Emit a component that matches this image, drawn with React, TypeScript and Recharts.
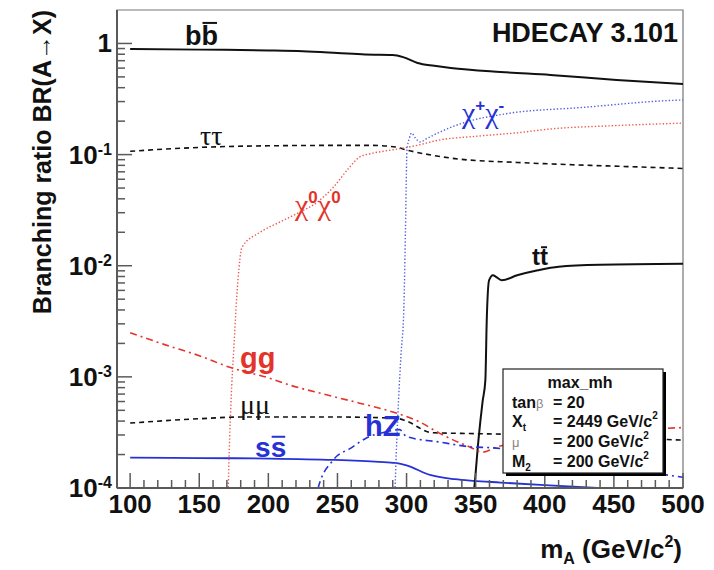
import React from "react";
import { LineChart, Line, XAxis, YAxis, ReferenceDot, ReferenceArea } from "recharts";

type Pt = [number, number];

// BR(A -> X) against m_A in GeV/c^2
const bbbar: Pt[] = [
  [100, 0.89], [150, 0.88], [200, 0.865], [225, 0.85], [250, 0.82], [270, 0.795], [290, 0.788],
  [298, 0.75], [308, 0.668], [320, 0.63], [332, 0.602], [368, 0.554], [404, 0.521], [452, 0.47], [500, 0.432],
];
const tautau: Pt[] = [
  [100, 0.107], [125, 0.112], [150, 0.116], [200, 0.12], [250, 0.121], [275, 0.121], [292, 0.117],
  [300, 0.11], [320, 0.098], [335, 0.092], [380, 0.085], [420, 0.081], [460, 0.078], [500, 0.075],
];
const mumu: Pt[] = [
  [100, 0.000384], [150, 0.00042], [180, 0.000435], [250, 0.000435], [292, 0.000425], [300, 0.0004],
  [318, 0.000315], [340, 0.00031], [370, 0.000305], [420, 0.00029], [460, 0.00028], [500, 0.00027],
];
const ssbar: Pt[] = [
  [100, 0.000188], [150, 0.000186], [200, 0.000184], [247, 0.000179], [280, 0.000172], [292, 0.000168],
  [300, 0.00016], [317, 0.000131], [335, 0.00012], [348, 0.000116], [368, 0.000112], [400, 0.000106],
  [438, 0.0001], [470, 0.000096], [500, 0.000093],
];
const ttbar: Pt[] = [
  [347, 0.00006], [349, 0.0001], [352, 0.00027], [355, 0.0006], [357, 0.00093], [358, 0.0032],
  [359.7, 0.0074], [362.5, 0.0082], [365, 0.0079], [369, 0.0074], [380, 0.0082], [395, 0.0091],
  [410, 0.0098], [440, 0.0102], [500, 0.0104],
];
const gg: Pt[] = [
  [100, 0.0025], [125, 0.00195], [150, 0.00155], [172, 0.00122], [200, 0.00098], [216, 0.00084],
  [240, 0.0007], [266, 0.00058], [293, 0.00047], [310, 0.00039], [324, 0.00031], [346, 0.000233],
  [355, 0.00021], [365, 0.000233], [380, 0.00026], [420, 0.0003], [460, 0.00033], [500, 0.00035],
];
const hZ: Pt[] = [
  [232, 0.00005], [236, 0.0001], [247, 0.000179], [260, 0.00023], [271, 0.000282], [285, 0.00032],
  [295, 0.000335], [300, 0.00029], [324, 0.000259], [346, 0.000235], [362, 0.00023], [400, 0.0002],
  [450, 0.00016], [490, 0.00013], [500, 0.000125],
];
const chi0chi0: Pt[] = [
  [170.5, 0.00005], [171, 0.0001], [173, 0.0006], [175, 0.0018], [178, 0.0074], [181, 0.0147],
  [194, 0.02], [208, 0.0246], [221, 0.0296], [235, 0.037], [247, 0.0508], [258, 0.075], [266, 0.095],
  [274, 0.102], [285, 0.108], [297, 0.114], [310, 0.123], [322, 0.134], [350, 0.146], [382, 0.158],
  [404, 0.17], [450, 0.182], [500, 0.192],
];
const chipchim: Pt[] = [
  [291, 0.00005], [291.7, 0.0001], [294.2, 0.00062], [296, 0.0016], [298, 0.004], [299.2, 0.021],
  [300.3, 0.109], [302, 0.14], [303.7, 0.156], [306.5, 0.14], [309.8, 0.13], [315, 0.14], [322, 0.155],
  [340, 0.191], [372, 0.233], [428, 0.266], [491, 0.307], [500, 0.31],
];

const xMajor = [100, 150, 200, 250, 300, 350, 400, 450, 500];
const xTicks: number[] = [];
for (let v = 100; v <= 500; v += 10) xTicks.push(v);
const yMajor = [1e-4, 1e-3, 1e-2, 1e-1, 1];
const yTicks = yMajor.flatMap((d) => (d === 1 ? [1] : [1, 2, 3, 4, 5, 6, 7, 8, 9].map((k) => k * d)));

const SANS = "'Liberation Sans', Arial, Helvetica, sans-serif";
const SERIF = "'Liberation Serif', 'DejaVu Serif', serif";
const INK = "#111";
const RED = "#e3342b";
const BLUE = "#2632d6";
const AXIS = "#5a5a5a";

const rows = (pts: Pt[]) => pts.map(([m, br]) => ({ m, br }));

const curves = [
  { name: "bb", pts: bbbar, stroke: INK, width: 2 },
  { name: "tautau", pts: tautau, stroke: INK, width: 1.6, dash: "5 4" },
  { name: "mumu", pts: mumu, stroke: INK, width: 1.6, dash: "5 4" },
  { name: "ss", pts: ssbar, stroke: BLUE, width: 1.8 },
  { name: "tt", pts: ttbar, stroke: INK, width: 2 },
  { name: "gg", pts: gg, stroke: RED, width: 1.6, dash: "7 4 2 4" },
  { name: "hZ", pts: hZ, stroke: BLUE, width: 1.6, dash: "7 4 2 4" },
  { name: "chi0chi0", pts: chi0chi0, stroke: "#ec5a50", width: 1.4, dash: "1.4 2" },
  { name: "chipchim", pts: chipchim, stroke: "#5560e0", width: 1.4, dash: "1.4 2" },
];

const XTick = ({ x, y, payload }: any) => {
  const major = xMajor.includes(payload.value);
  return (
    <g>
      <line x1={x} x2={x} y1={y} y2={y - (major ? 15 : 8)} stroke={AXIS} strokeWidth={1.5} />
      {major && (
        <text x={x} y={y + 25} textAnchor="middle" fontFamily={SANS} fontWeight={700} fontSize={26} fill={INK}>
          {payload.value}
        </text>
      )}
    </g>
  );
};

const YTick = ({ x, y, payload }: any) => {
  const v = payload.value;
  const major = yMajor.includes(v);
  const e = Math.round(Math.log10(v));
  return (
    <g>
      <line x1={x} x2={x + (major ? 15 : 8)} y1={y} y2={y} stroke={AXIS} strokeWidth={1.5} />
      {major && (
        <text x={x - 5} y={y + 9} textAnchor="end" fontFamily={SANS} fontWeight={700} fontSize={26} fill={INK}>
          {e === 0 ? "1" : (
            <>
              10<tspan dy={-9} fontSize={16}>{e}</tspan>
            </>
          )}
        </text>
      )}
    </g>
  );
};

// two equal letters, the second one barred
const BarPair = ({ cx = 0, cy = 0, ch, fs, fill, adv, lift }: any) => {
  const w = adv * fs;
  return (
    <g>
      <text x={cx} y={cy} fontFamily={SANS} fontWeight={700} fontSize={fs} fill={fill}>
        {ch}
        {ch}
      </text>
      <line x1={cx + w + 1} x2={cx + 2 * w - 1} y1={cy - lift} y2={cy - lift} stroke={fill} strokeWidth={2} />
    </g>
  );
};

const Chi = ({ cx = 0, cy = 0, a, b, fill }: any) => (
  <text x={cx} y={cy} fontFamily={SERIF} fontSize={30} fill={fill}>
    χ<tspan dy={-12} fontSize={17} fontFamily={SANS} fontWeight={700}>{a}</tspan>
    <tspan dy={12}>χ</tspan>
    <tspan dy={-12} fontSize={17} fontFamily={SANS} fontWeight={700}>{b}</tspan>
  </text>
);

const Plain = ({ cx = 0, cy = 0, text, fs, fill, family, weight }: any) => (
  <text x={cx} y={cy} fontFamily={family} fontWeight={weight} fontSize={fs} fill={fill}>
    {text}
  </text>
);

export default function App() {
  return (
    <div style={{ position: "absolute", left: 0, top: 0, width: 714, height: 570, background: "#fff" }}>
      <LineChart width={714} height={570} margin={{ top: 10, right: 31, left: 0, bottom: 0 }}>
        <XAxis
          dataKey="m"
          type="number"
          domain={[90.5, 500]}
          allowDataOverflow
          ticks={xTicks}
          interval={0}
          tick={<XTick />}
          tickLine={false}
          tickSize={0}
          tickMargin={0}
          height={82}
          axisLine={{ stroke: AXIS, strokeWidth: 2 }}
        />
        <YAxis
          dataKey="br"
          type="number"
          scale="log"
          domain={[1e-4, 2]}
          allowDataOverflow
          ticks={yTicks}
          interval={0}
          tick={<YTick />}
          tickLine={false}
          tickSize={0}
          tickMargin={0}
          width={117}
          axisLine={{ stroke: AXIS, strokeWidth: 2 }}
        />
        <ReferenceArea x1={90.5} x2={500} y1={1e-4} y2={2} fill="none" stroke="#777" strokeWidth={1.2} />
        {curves.map((c) => (
          <Line
            key={c.name}
            data={rows(c.pts)}
            dataKey="br"
            type="monotone"
            stroke={c.stroke}
            strokeWidth={c.width}
            strokeDasharray={c.dash}
            dot={false}
            activeDot={false}
            isAnimationActive={false}
          />
        ))}
        <ReferenceDot x={139.7} y={0.97} r={0} shape={(p: any) => <BarPair {...p} ch="b" fs={27} fill={INK} adv={0.611} lift={22} />} />
        <ReferenceDot x={150.6} y={0.122} r={0} shape={(p: any) => <Plain {...p} text="ττ" fs={28} fill={INK} family={SERIF} />} />
        <ReferenceDot x={219.3} y={0.0286} r={0} shape={(p: any) => <Chi {...p} a="0" b="0" fill={RED} />} />
        <ReferenceDot x={340.1} y={0.193} r={0} shape={(p: any) => <Chi {...p} a="+" b="-" fill={BLUE} />} />
        <ReferenceDot x={390.8} y={0.0101} r={0} shape={(p: any) => <BarPair {...p} ch="t" fs={24} fill={INK} adv={0.333} lift={18} />} />
        <ReferenceDot x={179.5} y={0.00119} r={0} shape={(p: any) => <Plain {...p} text="gg" fs={29} fill={RED} family={SANS} weight={700} />} />
        <ReferenceDot x={179.5} y={0.000465} r={0} shape={(p: any) => <Plain {...p} text="μμ" fs={28} fill={INK} family={SERIF} />} />
        <ReferenceDot x={190.4} y={0.000191} r={0} shape={(p: any) => <BarPair {...p} ch="s" fs={28} fill={BLUE} adv={0.556} lift={20} />} />
        <ReferenceDot x={269.9} y={0.000295} r={0} shape={(p: any) => <Plain {...p} text="hZ" fs={29} fill={BLUE} family={SANS} weight={700} />} />
      </LineChart>
      <svg width={714} height={570} style={{ position: "absolute", left: 0, top: 0, pointerEvents: "none" }}>
        <text x={678} y={42} textAnchor="end" fontFamily={SANS} fontWeight={700} fontSize={27} fill={INK}>
          HDECAY 3.101
        </text>
        <text
          transform="translate(51,10) rotate(-90)"
          textAnchor="end"
          fontFamily={SANS}
          fontWeight={700}
          fontSize={25}
          fill={INK}
        >
          Branching ratio BR(A→X)
        </text>
        <text x={682} y={558} textAnchor="end" fontFamily={SANS} fontWeight={700} fontSize={26} fill={INK}>
          m<tspan dy={6} fontSize={16}>A</tspan>
          <tspan dy={-6}> (GeV/c</tspan>
          <tspan dy={-11} fontSize={16}>2</tspan>
          <tspan dy={11}>)</tspan>
        </text>
        <rect x={506} y={372} width={160} height={104} fill="#000" />
        <rect x={503} y={369} width={160} height={104} fill="#fff" stroke="#222" strokeWidth={1.2} />
        <g fontFamily={SANS} fontWeight={700} fontSize={16} fill={INK}>
          <text x={580} y={388} textAnchor="middle">max_mh</text>
          <text x={512} y={408}>
            tan<tspan fontSize={13} fontWeight={400} fill="#888">β</tspan>
          </text>
          <text x={553} y={408}>= 20</text>
          <text x={512} y={427}>
            X<tspan dy={4} fontSize={10}>t</tspan>
          </text>
          <text x={553} y={427}>
            = 2449 GeV/c<tspan dy={-8} fontSize={10}>2</tspan>
          </text>
          <text x={512} y={447} fontSize={13} fontWeight={400} fill="#888">μ</text>
          <text x={553} y={447}>
            = 200 GeV/c<tspan dy={-8} fontSize={10}>2</tspan>
          </text>
          <text x={512} y={467}>
            M<tspan dy={4} fontSize={10}>2</tspan>
          </text>
          <text x={553} y={467}>
            = 200 GeV/c<tspan dy={-8} fontSize={10}>2</tspan>
          </text>
        </g>
      </svg>
    </div>
  );
}
